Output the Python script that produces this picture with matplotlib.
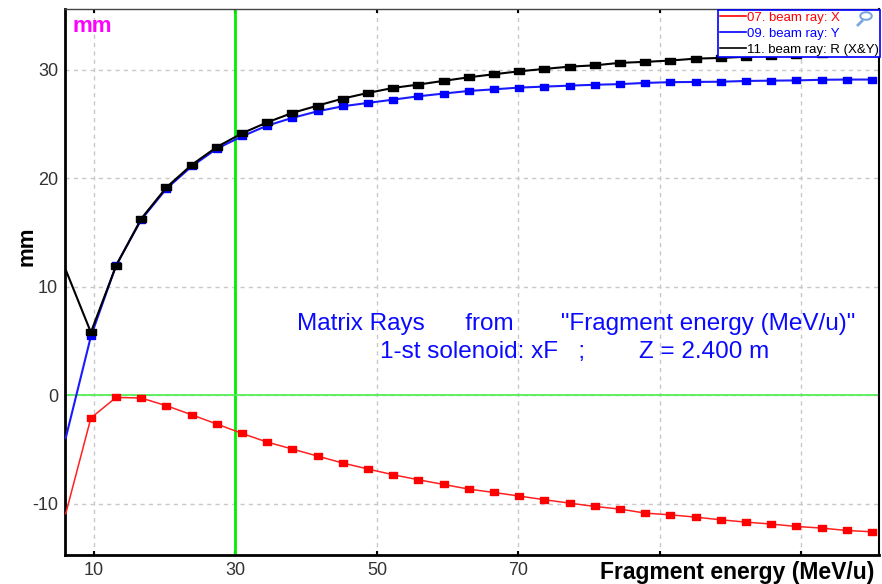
import matplotlib
matplotlib.use("Agg")
import matplotlib.pyplot as plt
from matplotlib.lines import Line2D
from matplotlib.patches import Circle

plt.rcParams['font.family'] = ['Liberation Sans', 'DejaVu Sans']
plt.rcParams['axes.unicode_minus'] = False

# energy points (MeV/u)
energy = [6.0, 9.56, 13.13, 16.69, 20.25, 23.81, 27.38, 30.94, 34.5, 38.06,
          41.63, 45.19, 48.75, 52.31, 55.88, 59.44, 63.0, 66.56, 70.13, 73.69,
          77.25, 80.81, 84.38, 87.94, 91.5, 95.06, 98.63, 102.19, 105.75,
          109.31, 112.88, 116.44, 120.0]

# beam rays (mm)
ray_x = [-10.9, -2.08, -0.18, -0.24, -0.95, -1.78, -2.64, -3.5, -4.3, -4.94,
         -5.59, -6.23, -6.78, -7.31, -7.77, -8.2, -8.63, -8.94, -9.27, -9.61,
         -9.92, -10.23, -10.47, -10.84, -11.0, -11.21, -11.46, -11.67, -11.85,
         -12.07, -12.22, -12.44, -12.56]
ray_y = [-3.93, 5.44, 12.0, 16.2, 19.05, 21.1, 22.74, 23.87, 24.86, 25.57,
         26.18, 26.64, 26.95, 27.25, 27.56, 27.81, 28.05, 28.2, 28.36, 28.45,
         28.54, 28.62, 28.68, 28.79, 28.86, 28.88, 28.9, 28.97, 29.0, 29.02,
         29.08, 29.1, 29.1]
ray_r = [11.58, 5.81, 11.95, 16.29, 19.17, 21.24, 22.89, 24.15, 25.16, 26.03,
         26.7, 27.35, 27.87, 28.33, 28.64, 28.98, 29.31, 29.59, 29.86, 30.08,
         30.29, 30.41, 30.64, 30.73, 30.85, 31.03, 31.09, 31.2, 31.3, 31.38,
         31.45, 31.52, 31.58]

x_ticks = [10, 30, 50, 70, 90, 110]
x_ticklabels = ['10', '30', '50', '70', '', '']
y_ticks = [-10, 0, 10, 20, 30]
labels = ['07. beam ray: X', '09. beam ray: Y', '11. beam ray: R (X&Y)']
colors = ['#ff0000', '#0000ff', '#000000']

W, H = 882, 584
fig = plt.figure(figsize=(W / 100, H / 100), dpi=100)
ax = fig.add_axes([65 / W, 1 - 555 / H, (879 - 65) / W, (555 - 9) / H])

# rectangular markers like the original program
rect = [(-1, -0.62), (1, -0.62), (1, 0.62), (-1, 0.62), (-1, -0.62)]

ax.axvline(30, color='#00ee00', lw=2, zorder=2)
ax.axhline(0, color='#55ee55', lw=1.3, zorder=2)

ax.plot(energy, ray_x, color='#ff2020', lw=1.1, marker=rect, ms=6.2,
        mfc='#ff0000', mec='#ff0000', markevery=slice(1, None), zorder=3)
ax.plot(energy, ray_y, color='#1a1aff', lw=1.5, marker=rect, ms=6.2,
        mfc='#0000ff', mec='#0000ff', markevery=slice(1, None), zorder=4)
ax.plot(energy, ray_r, color='#000000', lw=1.5, marker=rect, ms=6.6,
        mfc='#000000', mec='#000000', markevery=slice(1, None), zorder=5)

ax.set_xlim(5.9, 121)
ax.set_ylim(-14.7, 35.6)
ax.set_xticks(x_ticks)
ax.set_xticklabels(x_ticklabels)
ax.set_yticks(y_ticks)
ax.grid(True, color='#c8c8c8', ls=(0, (3, 3)), lw=1)
ax.set_axisbelow(True)
ax.tick_params(axis='both', labelsize=13, labelcolor='#333333', length=0, pad=5)
ax.tick_params(axis='x', top=True, direction='in', length=3, width=1.5, color='black')

for side in ['left', 'bottom']:
    ax.spines[side].set_linewidth(2)
    ax.spines[side].set_color('black')
ax.spines['right'].set_linewidth(1.5)
ax.spines['right'].set_color('black')
ax.spines['top'].set_linewidth(1)
ax.spines['top'].set_color('#444444')

ax.set_ylabel('mm', fontsize=16, fontweight='bold')
ax.yaxis.set_label_coords(-0.034, 0.565)
fig.text(874 / W, 1 - 579 / H, 'Fragment energy (MeV/u)', fontsize=16.5,
         fontweight='bold', ha='right', va='baseline')
fig.text(72 / W, 1 - 32 / H, 'mm', color='#ff00ff',
         fontsize=16, fontweight='bold', ha='left', va='baseline')

fig.text(297 / W, 1 - 330 / H,
         'Matrix Rays      from       "Fragment energy (MeV/u)"',
         color='#0a0aff', fontsize=17.5, ha='left', va='baseline')
fig.text(380 / W, 1 - 358 / H,
         '1-st solenoid: xF   ;        Z = 2.400 m',
         color='#0a0aff', fontsize=17.5, ha='left', va='baseline')

handles = [Line2D([], [], color=c, lw=1.2) for c in colors]
leg = ax.legend(handles, labels, loc='upper right', bbox_to_anchor=(1.0015, 0.998),
                fontsize=9.5, frameon=True, fancybox=False, framealpha=1,
                edgecolor='#0000ff', borderpad=0.1, handlelength=2.0,
                handletextpad=0.08, labelspacing=0.3, borderaxespad=0)
leg.get_frame().set_linewidth(1.2)
leg.set_zorder(10)
for txt, c in zip(leg.get_texts(), colors):
    txt.set_color(c)

# little magnifier glyph in the legend corner
fig.add_artist(Circle((866 / W, 1 - 16 / H), 0.0065, transform=fig.transFigure,
                      fill=False, ec='#7aa7e0', lw=1.5, zorder=11))
fig.add_artist(Line2D([858 / W, 862 / W], [1 - 25 / H, 1 - 21 / H],
                      color='#7aa7e0', lw=2, zorder=11))

fig.savefig('out.png', dpi=100)
